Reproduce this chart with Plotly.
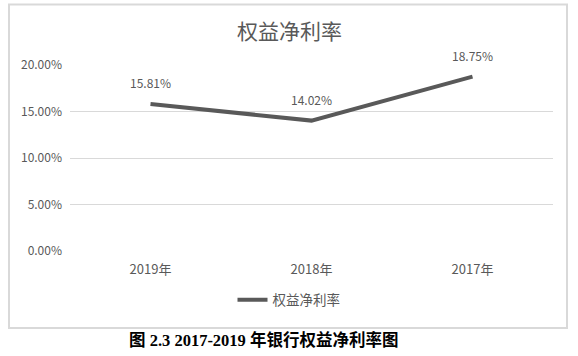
import plotly.graph_objects as go

categories = ["2019年", "2018年", "2017年"]
values = [0.1581, 0.1402, 0.1875]
value_labels = ["15.81%", "14.02%", "18.75%"]
series_name = "权益净利率"
chart_title = "权益净利率"
caption = "图 2.3 2017-2019 年银行权益净利率图"

GRAY = "#595959"
FONT = "Noto Sans CJK SC"

W, H = 578, 356
L, R, T, B = 70, 25, 65, 105
pw, ph = W - L - R, H - T - B

def px(x):
    return (x - L) / pw

def py(y):
    return (H - B - y) / ph

fig = go.Figure()
fig.add_trace(go.Scatter(
    x=categories, y=values, mode="lines", name=series_name,
    line=dict(color=GRAY, width=4), hoverinfo="skip",
))

for c, v, t in zip(categories, values, value_labels):
    fig.add_annotation(x=c, y=v, text=t, showarrow=False, yshift=21,
                       xanchor="center", yanchor="middle",
                       font=dict(family=FONT, size=12, color=GRAY))

fig.add_shape(type="rect", xref="paper", yref="paper",
              x0=px(9), x1=px(567), y0=py(328), y1=py(4.5),
              line=dict(color="#d9d9d9", width=2), layer="below")

fig.add_annotation(xref="paper", yref="paper", x=px(289), y=py(30),
                   xanchor="center", yanchor="middle",
                   text=chart_title, showarrow=False,
                   font=dict(family=FONT, size=21, color=GRAY))

fig.add_annotation(xref="paper", yref="paper", x=px(264), y=py(340),
                   xanchor="center", yanchor="middle",
                   text="<b>" + caption + "</b>", showarrow=False,
                   font=dict(family="Liberation Serif, Noto Sans CJK SC", size=16.5, color="#000000"))

fig.update_layout(
    width=W, height=H,
    margin=dict(l=L, r=R, t=T, b=B, autoexpand=False),
    paper_bgcolor="white", plot_bgcolor="white",
    showlegend=True,
    hovermode=False,
    legend=dict(orientation="h", x=px(289), xanchor="center", y=py(300), yanchor="middle",
                font=dict(family=FONT, size=13.5, color=GRAY), itemwidth=30),
    xaxis=dict(range=[-0.5, 2.5], showgrid=False, showline=False, ticks="",
               ticklabelstandoff=9,
               tickfont=dict(family=FONT, size=13, color=GRAY)),
    yaxis=dict(range=[0, 0.2], tickvals=[0, 0.05, 0.10, 0.15, 0.20], tickformat=".2%",
               showgrid=True, gridcolor="#d9d9d9", gridwidth=1, zeroline=False,
               showline=False, ticks="", ticklabelstandoff=7,
               tickfont=dict(family=FONT, size=12, color=GRAY)),
)

fig.write_html("out.html", config={"displayModeBar": False},
               post_script="document.body.style.margin='0px';")
